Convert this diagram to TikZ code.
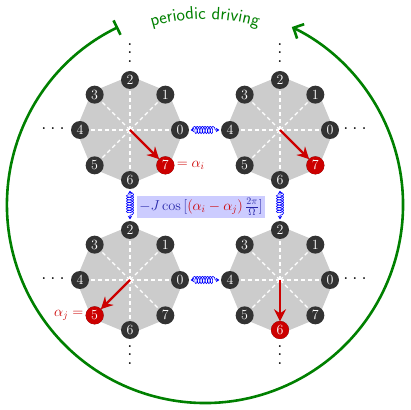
\documentclass[tikz,border=0pt]{standalone}
\usetikzlibrary{arrows.meta,decorations.pathmorphing,decorations.text}
\definecolor{drive}{RGB}{0,128,0}
\definecolor{selred}{RGB}{204,0,0}
\definecolor{formblue}{RGB}{40,40,170}
\newcommand\octring[3]{%
  \begin{scope}[shift={#2}]
    \fill[gray!40] (0:54) -- (45:54) -- (90:54) -- (135:54) -- (180:54) -- (225:54) -- (270:54) -- (315:54) -- cycle;
    \foreach \k in {0,...,7} \draw[spoke] (0,0) -- (\k*45:50);
    \foreach \k in {0,...,7} \node[num] (#1-\k) at (\k*45:50) {\k};
    \node[num,sel] (#1-#3) at (#3*45:50) {#3};
    \draw[ptr] (0,0) -- (#1-#3);
  \end{scope}}
\begin{document}
\begin{tikzpicture}[x=1pt,y=1pt,
  num/.style={circle,fill=black!80,text=white,minimum size=18pt,inner sep=0pt,font=\fontsize{14}{14}\selectfont},
  sel/.style={fill=selred},
  spoke/.style={white,dash pattern=on 4pt off 3pt,line width=1.1pt},
  ptr/.style={selred,line width=2.2pt,shorten >=-0.5pt,-{Stealth[length=12pt,width=12pt,inset=4pt]}},
  wavy/.style={blue,line width=0.6pt,{Stealth[length=3.5pt,width=4.5pt]}-{Stealth[length=3.5pt,width=4.5pt]},shorten <=1.5pt,shorten >=1.5pt,decorate,decoration={coil,aspect=0.5,segment length=2.6pt,amplitude=3.6pt,pre length=3pt,post length=3pt}},
  dotsx/.style={font=\fontsize{13}{13}\selectfont\bfseries,inner sep=0pt},
  lab/.style={text=selred,font=\fontsize{14}{14}\selectfont,inner sep=0pt}
]
\useasboundingbox (0,0) rectangle (410,410);
% big driving arc
\draw[drive,line width=2.6pt,{Bar[width=16pt]}-{Straight Barb[length=8pt,width=16pt]}]
  (205,205) ++(116:198) arc[start angle=116,end angle=424,radius=198];
\path[decorate,decoration={text along path,text color=drive,text align=center,
  text={|\sffamily\fontsize{18}{18}\selectfont|periodic driving}}]
  (205,205) ++(115:186) arc[start angle=115,end angle=65,radius=186];
% rings
\octring{tl}{(130,280)}{7}
\octring{tr}{(280,280)}{7}
\octring{bl}{(130,130)}{5}
\octring{br}{(280,130)}{6}
% dots
\node[dotsx] (d1) at (53,281) {.\kern5pt.\kern5pt.};
\node[dotsx] (d2) at (130,357) {\vbox{\baselineskip=8.5pt\hbox{.}\hbox{.}\hbox{.}}};
\node[dotsx] (d3) at (280,357) {\vbox{\baselineskip=8.5pt\hbox{.}\hbox{.}\hbox{.}}};
\node[dotsx] (d4) at (355,281) {.\kern5pt.\kern5pt.};
\node[dotsx] (d5) at (53,131) {.\kern5pt.\kern5pt.};
\node[dotsx] (d6) at (355,131) {.\kern5pt.\kern5pt.};
\node[dotsx] (d7) at (130,55) {\vbox{\baselineskip=8.5pt\hbox{.}\hbox{.}\hbox{.}}};
\node[dotsx] (d8) at (280,55) {\vbox{\baselineskip=8.5pt\hbox{.}\hbox{.}\hbox{.}}};
% labels
\node[lab,anchor=west] (li) at ([xshift=2pt]tl-7.east) {$=\alpha_i$};
\node[lab,anchor=east] (lj) at ([xshift=-2pt]bl-5.west) {$\alpha_j=$};
% couplings
\draw[wavy] (tl-0) -- (tr-4);
\draw[wavy] (bl-0) -- (br-4);
\draw[wavy] (tl-6) -- (bl-2);
\draw[wavy] (tr-6) -- (br-2);
% formula
\node[fill=blue!20,text=formblue,inner sep=2pt,font=\fontsize{14}{16}\selectfont] (f) at (201,203)
  {$-J\cos\Big[\textcolor{selred}{(\alpha_i-\alpha_j)}\,\frac{2\pi}{\Omega}\Big]$};
\end{tikzpicture}
\end{document}
